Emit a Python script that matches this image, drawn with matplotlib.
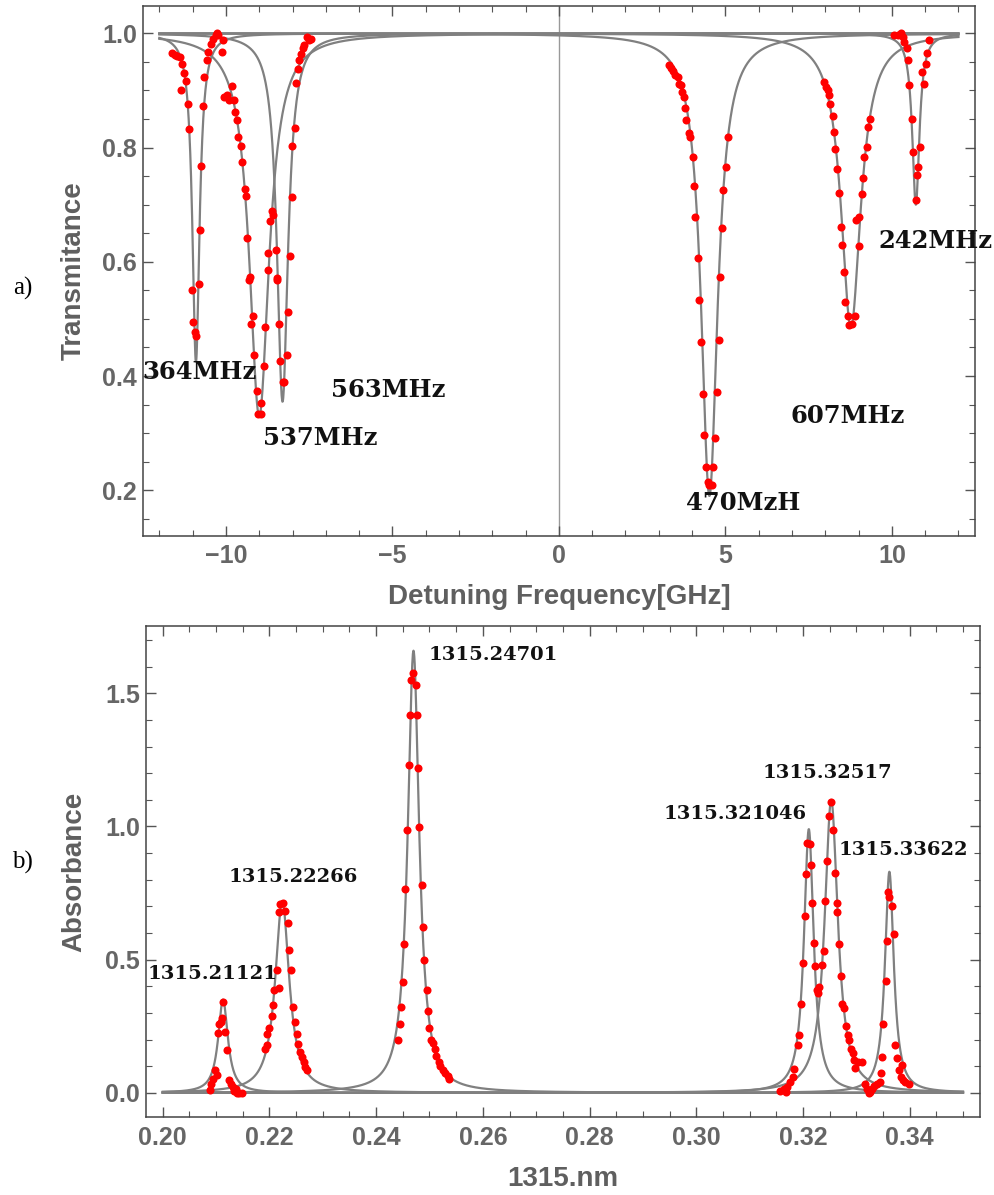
import numpy as np
import matplotlib.pyplot as plt
from matplotlib.ticker import MultipleLocator, FormatStrFormatter

plt.rcParams['font.family'] = ['Liberation Sans', 'DejaVu Sans']
plt.rcParams['font.weight'] = 'bold'
plt.rcParams['axes.unicode_minus'] = True

# === a) Transmitance : points mesurés (GHz, T)
t364_x = [-11.63, -11.53, -11.46, -11.38, -11.36, -11.33, -11.25, -11.21, -11.14, -11.11,
          -11.02, -11.00, -10.93, -10.89, -10.81, -10.79, -10.75, -10.68, -10.65, -10.58,
          -10.54, -10.45, -10.38, -10.30, -10.26, -10.23]
t364_y = [0.965, 0.963, 0.960, 0.958, 0.901, 0.946, 0.931, 0.916, 0.877, 0.833,
          0.550, 0.495, 0.477, 0.471, 0.562, 0.655, 0.768, 0.873, 0.924, 0.953,
          0.967, 0.982, 0.991, 0.998, 1.000, 0.997]

t537_x = [-10.13, -10.10, -10.06, -9.98, -9.90, -9.83, -9.75, -9.73, -9.66, -9.63,
          -9.55, -9.51, -9.43, -9.41, -9.38, -9.30, -9.28, -9.25, -9.18, -9.15,
          -9.08, -9.03, -8.96, -8.94, -8.87, -8.83, -8.75, -8.75, -8.69, -8.61, -8.58]
t537_y = [0.967, 0.988, 0.889, 0.892, 0.884, 0.908, 0.883, 0.863, 0.848, 0.819,
          0.803, 0.774, 0.728, 0.715, 0.642, 0.568, 0.574, 0.492, 0.505, 0.436,
          0.373, 0.334, 0.334, 0.352, 0.418, 0.486, 0.616, 0.585, 0.672, 0.689, 0.682]

t563_x = [-8.51, -8.48, -8.46, -8.40, -8.37, -8.30, -8.25, -8.18, -8.15, -8.08,
          -8.03, -8.01, -7.93, -7.91, -7.83, -7.80, -7.74, -7.70, -7.66, -7.58, -7.51, -7.45]
t563_y = [0.620, 0.571, 0.568, 0.491, 0.426, 0.390, 0.390, 0.436, 0.513, 0.610,
          0.714, 0.803, 0.835, 0.913, 0.937, 0.954, 0.964, 0.974, 0.980, 0.994, 0.989, 0.991]

t470_x = [3.32, 3.37, 3.42, 3.50, 3.57, 3.60, 3.67, 3.70, 3.77, 3.79, 3.82, 3.90, 3.94,
          4.02, 4.05, 4.10, 4.17, 4.22, 4.27, 4.34, 4.37, 4.42, 4.47, 4.52, 4.59, 4.62,
          4.70, 4.74, 4.80, 4.84, 4.90, 4.93, 5.02, 5.07]
t470_y = [0.944, 0.939, 0.934, 0.927, 0.924, 0.912, 0.909, 0.898, 0.889, 0.870, 0.849,
          0.825, 0.818, 0.784, 0.732, 0.679, 0.606, 0.533, 0.459, 0.368, 0.296, 0.241,
          0.214, 0.209, 0.210, 0.241, 0.292, 0.372, 0.463, 0.574, 0.659, 0.725, 0.766, 0.818]

t607_x = [7.97, 8.02, 8.07, 8.10, 8.15, 8.22, 8.25, 8.30, 8.34, 8.42, 8.47, 8.50, 8.57,
          8.60, 8.67, 8.72, 8.80, 8.88, 8.92, 9.00, 9.02, 9.10, 9.12, 9.17, 9.25, 9.29, 9.35]
t607_y = [0.915, 0.906, 0.901, 0.892, 0.877, 0.856, 0.828, 0.797, 0.763, 0.720, 0.661,
          0.629, 0.582, 0.529, 0.505, 0.489, 0.492, 0.506, 0.673, 0.627, 0.679, 0.718,
          0.747, 0.784, 0.801, 0.836, 0.850]

t242_x = [10.07, 10.17, 10.27, 10.32, 10.37, 10.44, 10.49, 10.52, 10.60, 10.64, 10.72,
          10.75, 10.80, 10.84, 10.92, 10.97, 11.02, 11.05, 11.12]
t242_y = [0.998, 0.998, 1.000, 0.993, 0.985, 0.974, 0.953, 0.909, 0.850, 0.792, 0.708,
          0.752, 0.766, 0.801, 0.933, 0.911, 0.946, 0.965, 0.988]

# Ajustements lorentziens (centre, profondeur, demi-largeur)
dip_centers = [-10.90, -9.00, -8.30, 4.52, 8.77, 10.72]
dip_depths = [0.575, 0.67, 0.645, 0.81, 0.515, 0.30]
dip_widths = [0.13, 0.36, 0.20, 0.30, 0.36, 0.13]

dip_labels = ['364MHz', '537MHz', '563MHz', '470MzH', '607MHz', '242MHz']
dip_label_x = [-10.78, -7.16, -5.11, 5.52, 8.67, 11.30]
dip_label_y = [0.407, 0.292, 0.375, 0.177, 0.330, 0.637]

# === b) Absorbance : points mesurés (nm - 1315, A)
a211_x = [0.20887, 0.20906, 0.20937, 0.20981, 0.21024, 0.21043, 0.21062, 0.21087, 0.21112,
          0.21137, 0.21168, 0.21212, 0.21249, 0.21280, 0.21312, 0.21337, 0.21374, 0.21387,
          0.21437, 0.21480]
a211_y = [0.010, 0.035, 0.051, 0.085, 0.066, 0.223, 0.260, 0.267, 0.282,
          0.342, 0.229, 0.160, 0.048, 0.035, 0.023, 0.008, 0.013, -0.002,
          0.001, 0.000]

a222_x = [0.2191, 0.2195, 0.2196, 0.2200, 0.2204, 0.2206, 0.2209, 0.2214, 0.2217, 0.2218,
          0.2220, 0.2225, 0.2229, 0.2234, 0.2237, 0.2240, 0.2244, 0.2248, 0.2252, 0.2254,
          0.2257, 0.2261, 0.2264, 0.2267, 0.2270]
a222_y = [0.163, 0.179, 0.220, 0.245, 0.288, 0.329, 0.386, 0.460, 0.392, 0.679,
          0.708, 0.711, 0.683, 0.636, 0.538, 0.461, 0.323, 0.267, 0.220, 0.185,
          0.154, 0.135, 0.116, 0.098, 0.087]

a247_x = [0.2441, 0.2444, 0.2446, 0.2450, 0.2452, 0.2454, 0.2457, 0.2461, 0.2463, 0.2465,
          0.2470, 0.2474, 0.2476, 0.2479, 0.2481, 0.2486, 0.2488, 0.2490, 0.2496, 0.2498,
          0.2500, 0.2503, 0.2507, 0.2511, 0.2512, 0.2517, 0.2520, 0.2525, 0.2529, 0.2534, 0.2537]
a247_y = [0.198, 0.260, 0.321, 0.417, 0.557, 0.767, 0.986, 1.230, 1.420, 1.549,
          1.577, 1.530, 1.420, 1.218, 0.999, 0.780, 0.623, 0.498, 0.386, 0.307,
          0.244, 0.198, 0.188, 0.163, 0.138, 0.116, 0.100, 0.085, 0.075, 0.063, 0.051]

a321_x = [0.31575, 0.3164, 0.3169, 0.3171, 0.3176, 0.3181, 0.3184, 0.3190, 0.3192, 0.3196,
          0.3201, 0.3203, 0.3206, 0.3207, 0.3213, 0.3215, 0.3217, 0.3220, 0.3223, 0.3226,
          0.3229, 0.3231]
a321_y = [0.008, 0.013, 0.004, 0.023, 0.041, 0.060, 0.088, 0.179, 0.217, 0.333,
          0.488, 0.663, 0.821, 0.938, 0.936, 0.854, 0.713, 0.561, 0.476, 0.386,
          0.373, 0.396]

a325_x = [0.3236, 0.3239, 0.3241, 0.3245, 0.3249, 0.3253, 0.3256, 0.3261, 0.3263, 0.3263,
          0.3268, 0.3272, 0.3274, 0.3277, 0.3281, 0.3284, 0.3286, 0.3290, 0.3293, 0.3296,
          0.3298, 0.3304, 0.3310]
a325_y = [0.479, 0.533, 0.721, 0.871, 1.039, 1.092, 0.986, 0.826, 0.711, 0.680,
          0.558, 0.438, 0.333, 0.317, 0.252, 0.217, 0.198, 0.163, 0.148, 0.123,
          0.095, 0.116, 0.116]

a336_x = [0.3317, 0.3320, 0.3323, 0.3326, 0.3329, 0.3334, 0.3339, 0.3344, 0.3347, 0.3348,
          0.3350, 0.3356, 0.3358, 0.3359, 0.3362, 0.3367, 0.3370, 0.3373, 0.3376, 0.3380,
          0.3383, 0.3386, 0.3388, 0.3392, 0.3398]
a336_y = [0.033, 0.016, -0.002, 0.004, 0.013, 0.025, 0.035, 0.041, 0.075, 0.135,
          0.260, 0.420, 0.569, 0.754, 0.736, 0.701, 0.598, 0.179, 0.129, 0.085,
          0.060, 0.104, 0.048, 0.041, 0.033]

peak_centers = [0.2113, 0.2224, 0.2470, 0.3211, 0.3253, 0.3362]
peak_heights = [0.35, 0.72, 1.66, 0.99, 1.10, 0.83]
peak_widths = [0.0011, 0.0016, 0.0013, 0.0011, 0.0015, 0.0010]

peak_labels = ['1315.21121', '1315.22266', '1315.24701', '1315.321046', '1315.32517', '1315.33622']
peak_label_x = [0.2093, 0.2244, 0.2498, 0.3072, 0.3245, 0.3389]
peak_label_y = [0.448, 0.811, 1.643, 1.046, 1.201, 0.911]
peak_label_ha = ['center', 'center', 'left', 'center', 'center', 'center']

LINE = '#808080'
RED = '#ff0000'
TXT = '#666666'
LAB = '#5f5f5f'


def style_axes(ax):
    ax.tick_params(which='both', direction='in', top=True, right=True,
                   color='#555555', labelcolor=TXT, labelsize=18)
    ax.tick_params(axis='x', which='both', pad=6)
    ax.tick_params(axis='y', which='both', pad=4)
    ax.tick_params(which='major', length=7, width=1)
    ax.tick_params(which='minor', length=4, width=0.8)
    for s in ax.spines.values():
        s.set_color('#444444')
        s.set_linewidth(1.1)


fig = plt.figure(figsize=(9.95, 11.95), dpi=100)
fig.patch.set_facecolor('white')

# ---------- a)
ax1 = fig.add_axes([0.1434, 0.5515, 0.8366, 0.4435])
xx = np.linspace(-12, 12, 3000)
for c, d, w in zip(dip_centers, dip_depths, dip_widths):
    ax1.plot(xx, 1 - d / (1 + ((xx - c) / w) ** 2), color=LINE, lw=1.6, zorder=2)
ax1.axvline(0, color='#999999', lw=1.0, zorder=1)
for xs, ys in [(t364_x, t364_y), (t537_x, t537_y), (t563_x, t563_y),
               (t470_x, t470_y), (t607_x, t607_y), (t242_x, t242_y)]:
    ax1.plot(xs, ys, 'o', color=RED, ms=5.8, mec='none', zorder=3)
for lab, lx, ly in zip(dip_labels, dip_label_x, dip_label_y):
    ax1.text(lx, ly, lab, family='DejaVu Serif', fontweight='bold', fontsize=17.5,
             color='#111111', ha='center', va='center', zorder=4)
ax1.set_xlim(-12.5, 12.5)
ax1.set_ylim(0.12, 1.048)
ax1.xaxis.set_major_locator(MultipleLocator(5))
ax1.xaxis.set_minor_locator(MultipleLocator(1))
ax1.yaxis.set_major_locator(MultipleLocator(0.2))
ax1.yaxis.set_minor_locator(MultipleLocator(0.05))
ax1.yaxis.set_major_formatter(FormatStrFormatter('%.1f'))
style_axes(ax1)
ax1.set_xlabel('Detuning Frequency[GHz]', fontsize=20, fontweight='bold', color=LAB)
ax1.set_ylabel('Transmitance', fontsize=20, fontweight='bold', color=LAB)
ax1.xaxis.set_label_coords(0.5, -0.0906)
ax1.yaxis.set_label_coords(-0.067, 0.5)

# ---------- b)
ax2 = fig.add_axes([0.1464, 0.065, 0.8386, 0.4112])
xb = np.linspace(0.20, 0.35, 4000)
for c, h, w in zip(peak_centers, peak_heights, peak_widths):
    ax2.plot(xb, h / (1 + ((xb - c) / w) ** 2), color=LINE, lw=1.6, zorder=2)
for xs, ys in [(a211_x, a211_y), (a222_x, a222_y), (a247_x, a247_y),
               (a321_x, a321_y), (a325_x, a325_y), (a336_x, a336_y)]:
    ax2.plot(xs, ys, 'o', color=RED, ms=5.8, mec='none', zorder=3)
for lab, lx, ly, ha in zip(peak_labels, peak_label_x, peak_label_y, peak_label_ha):
    ax2.text(lx, ly, lab, family='DejaVu Serif', fontweight='bold', fontsize=14,
             color='#111111', ha=ha, va='center', zorder=4)
ax2.set_xlim(0.1968, 0.3532)
ax2.set_ylim(-0.092, 1.753)
ax2.xaxis.set_major_locator(MultipleLocator(0.02))
ax2.xaxis.set_minor_locator(MultipleLocator(0.005))
ax2.xaxis.set_major_formatter(FormatStrFormatter('%.2f'))
ax2.yaxis.set_major_locator(MultipleLocator(0.5))
ax2.yaxis.set_minor_locator(MultipleLocator(0.1))
ax2.yaxis.set_major_formatter(FormatStrFormatter('%.1f'))
style_axes(ax2)
ax2.set_xlabel('1315.nm', fontsize=20, fontweight='bold', color=LAB)
ax2.set_ylabel('Absorbance', fontsize=20, fontweight='bold', color=LAB)
ax2.xaxis.set_label_coords(0.5, -0.099)
ax2.yaxis.set_label_coords(-0.0704, 0.5)

# Étiquettes des panneaux
fig.text(0.023, 1 - 288 / 1195, 'a)', family='Liberation Serif', fontweight='normal',
         fontsize=18, ha='center', va='center')
fig.text(0.023, 1 - 862 / 1195, 'b)', family='Liberation Serif', fontweight='normal',
         fontsize=18, ha='center', va='center')

plt.savefig('out.png', dpi=100)
plt.close()
